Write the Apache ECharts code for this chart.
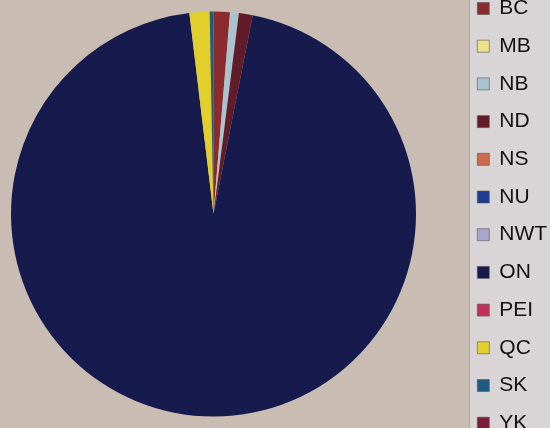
<!DOCTYPE html>
<html>
<head>
<meta charset="utf-8">
<script src="https://cdn.jsdelivr.net/npm/echarts@6/dist/echarts.min.js"></script>
<style>
  html, body { margin: 0; padding: 0; background: #c8bcb3; }
  #chart { width: 550px; height: 428px; }
</style>
</head>
<body>
<div id="chart"></div>
<script>
// Provinces and territories, in legend order
const regions = ['BC', 'MB', 'NB', 'ND', 'NS', 'NU', 'NWT', 'ON', 'PEI', 'QC', 'SK', 'YK'];
// Share of the total (per mille)
const shares = [13, 0, 7, 11, 0, 0, 0, 949, 0, 16, 3, 0];
// Slice / swatch colours
const colors = ['#8c2b2e', '#ece08a', '#a9c4cf', '#621b29', '#cc6a4a', '#1f3c8e',
                '#aaa5cc', '#171a4c', '#c0305a', '#e2cf2c', '#1f5a80', '#7a1f38'];

const chart = echarts.init(document.getElementById('chart'), null, { renderer: 'canvas' });

chart.setOption({
  animation: false,
  backgroundColor: '#c8bcb3',
  color: colors,
  graphic: [
    {
      type: 'rect',
      shape: { x: 469.5, y: -1, width: 82, height: 430 },
      style: { fill: '#d9d5d7', stroke: '#a9a3a2', lineWidth: 1 },
      z: -1
    }
  ],
  legend: {
    orient: 'vertical',
    left: 477,
    top: -2,
    height: 460,
    padding: 0,
    itemWidth: 12,
    itemHeight: 12,
    itemGap: 16.7,
    icon: 'rect',
    selectedMode: false,
    itemStyle: { borderColor: '#555', borderWidth: 0.6 },
    textStyle: {
      fontFamily: '"Liberation Sans", Arial, sans-serif',
      fontSize: 21,
      lineHeight: 21,
      color: '#111',
      padding: [0, 0, 0, 5]
    },
    data: regions
  },
  series: [{
    type: 'pie',
    center: [213.5, 214],
    radius: [0, 202.5],
    startAngle: 90,
    clockwise: true,
    label: { show: false },
    labelLine: { show: false },
    emphasis: { disabled: true },
    itemStyle: { borderWidth: 0 },
    data: regions.map((name, i) => ({ name: name, value: shares[i] }))
  }]
});
</script>
</body>
</html>
